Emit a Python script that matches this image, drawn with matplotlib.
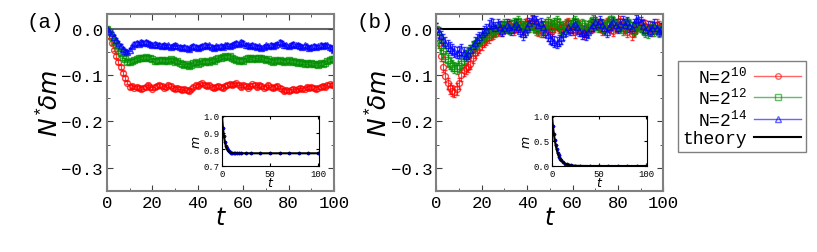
import matplotlib
matplotlib.use("Agg")
import matplotlib.pyplot as plt
from matplotlib.lines import Line2D
from matplotlib.ticker import MultipleLocator

plt.rcParams['font.family'] = ['Liberation Mono', 'DejaVu Sans']
plt.rcParams['mathtext.fontset'] = 'custom'
plt.rcParams['mathtext.rm'] = 'Liberation Mono'
plt.rcParams['mathtext.it'] = 'DejaVu Sans:italic'

# time grid of the main panels
t = list(range(0, 101))

# panel (a): N*dm for N = 2^10, 2^12, 2^14
red_a = [0, -0.015, -0.03, -0.045, -0.058, -0.071, -0.083, -0.095, -0.106, -0.116, -0.125,
         -0.124, -0.127, -0.125, -0.128, -0.130, -0.127, -0.125, -0.122, -0.126, -0.129,
         -0.126, -0.123, -0.121, -0.124, -0.127, -0.125, -0.122, -0.124, -0.128, -0.130,
         -0.127, -0.130, -0.133, -0.129, -0.132, -0.135, -0.131, -0.126, -0.122, -0.124,
         -0.120, -0.118, -0.121, -0.124, -0.122, -0.125, -0.128, -0.126, -0.123, -0.125,
         -0.128, -0.124, -0.121, -0.119, -0.122, -0.120, -0.118, -0.122, -0.125, -0.121,
         -0.124, -0.127, -0.123, -0.120, -0.122, -0.125, -0.121, -0.124, -0.127, -0.125,
         -0.122, -0.125, -0.128, -0.126, -0.123, -0.127, -0.131, -0.134, -0.132, -0.135,
         -0.133, -0.130, -0.133, -0.131, -0.128, -0.131, -0.129, -0.126, -0.128, -0.125,
         -0.128, -0.130, -0.127, -0.126, -0.123, -0.125, -0.122, -0.120, -0.122, -0.121]
green_a = [0, -0.008, -0.017, -0.027, -0.036, -0.045, -0.053, -0.060, -0.066, -0.071, -0.072,
           -0.069, -0.067, -0.066, -0.064, -0.062, -0.063, -0.061, -0.063, -0.062, -0.066,
           -0.069, -0.070, -0.067, -0.068, -0.070, -0.067, -0.069, -0.066, -0.068, -0.072,
           -0.070, -0.073, -0.076, -0.079, -0.077, -0.080, -0.078, -0.074, -0.072, -0.075,
           -0.073, -0.070, -0.072, -0.069, -0.071, -0.068, -0.070, -0.066, -0.064, -0.062,
           -0.060, -0.058, -0.061, -0.059, -0.063, -0.066, -0.068, -0.070, -0.067, -0.069,
           -0.066, -0.064, -0.062, -0.065, -0.063, -0.066, -0.064, -0.062, -0.065, -0.068,
           -0.066, -0.069, -0.071, -0.068, -0.070, -0.067, -0.069, -0.072, -0.070, -0.068,
           -0.071, -0.069, -0.072, -0.074, -0.071, -0.073, -0.076, -0.073, -0.075, -0.074,
           -0.077, -0.075, -0.078, -0.074, -0.076, -0.073, -0.070, -0.068, -0.066, -0.065]
blue_a = [0, -0.004, -0.010, -0.017, -0.024, -0.031, -0.037, -0.043, -0.048, -0.050, -0.045,
          -0.038, -0.033, -0.030, -0.032, -0.029, -0.031, -0.028, -0.030, -0.033, -0.035,
          -0.032, -0.036, -0.034, -0.037, -0.035, -0.038, -0.036, -0.039, -0.037, -0.034,
          -0.038, -0.040, -0.042, -0.039, -0.041, -0.044, -0.040, -0.037, -0.040, -0.042,
          -0.039, -0.037, -0.035, -0.038, -0.036, -0.039, -0.041, -0.038, -0.040, -0.037,
          -0.039, -0.036, -0.034, -0.037, -0.035, -0.032, -0.030, -0.033, -0.029, -0.031,
          -0.034, -0.036, -0.038, -0.035, -0.037, -0.040, -0.038, -0.041, -0.039, -0.036,
          -0.038, -0.035, -0.037, -0.034, -0.032, -0.029, -0.031, -0.034, -0.036, -0.038,
          -0.035, -0.033, -0.036, -0.034, -0.037, -0.039, -0.036, -0.038, -0.041, -0.039,
          -0.037, -0.040, -0.038, -0.035, -0.037, -0.034, -0.036, -0.039, -0.042, -0.045]

# panel (b)
red_b = [0, -0.030, -0.058, -0.082, -0.102, -0.118, -0.128, -0.134, -0.136, -0.130, -0.118,
         -0.100, -0.090, -0.085, -0.082, -0.075, -0.062, -0.052, -0.045, -0.040, -0.033,
         -0.028, -0.022, -0.018, -0.012, -0.010, -0.006, -0.004, 0.002, -0.003, 0.005,
         0.002, 0.008, 0.004, -0.002, 0.006, 0.010, 0.004, 0.000, 0.008, 0.012,
         0.006, 0.015, 0.010, 0.004, -0.004, 0.002, -0.006, 0.004, 0.008, 0.000,
         -0.004, 0.006, 0.010, 0.002, -0.002, 0.004, 0.008, 0.012, 0.006, -0.002,
         -0.008, 0.002, 0.006, -0.004, -0.010, -0.006, 0.004, 0.010, 0.006, 0.014,
         0.010, 0.004, -0.002, 0.006, 0.012, 0.008, 0.002, -0.004, 0.004, 0.010,
         0.016, 0.008, 0.002, -0.006, 0.004, -0.012, -0.006, 0.002, 0.008, 0.004,
         0.010, 0.006, -0.002, 0.004, -0.004, 0.002, 0.008, 0.004, -0.002, 0.002]
green_b = [0, -0.018, -0.034, -0.048, -0.059, -0.068, -0.075, -0.080, -0.084, -0.085, -0.081,
           -0.072, -0.064, -0.058, -0.052, -0.046, -0.041, -0.036, -0.031, -0.026, -0.022,
           -0.018, -0.014, -0.012, -0.008, -0.006, -0.003, 0.002, -0.001, 0.004, 0.008,
           0.004, 0.000, 0.006, 0.012, 0.008, 0.016, 0.010, 0.004, 0.008, 0.002,
           0.006, 0.010, 0.004, -0.002, 0.004, -0.006, 0.002, 0.008, 0.014, 0.010,
           0.004, 0.012, 0.016, 0.008, 0.002, -0.004, 0.006, 0.010, 0.004, 0.012,
           0.016, 0.008, 0.002, 0.010, 0.006, -0.004, 0.004, 0.012, 0.018, 0.010,
           0.004, 0.010, 0.006, 0.000, 0.008, 0.014, 0.020, 0.012, 0.006, 0.010,
           0.004, -0.002, 0.006, 0.012, 0.008, 0.002, -0.004, 0.004, 0.010, 0.006,
           0.000, -0.006, -0.008, -0.002, 0.004, -0.004, 0.002, -0.006, 0.000, -0.004]
blue_b = [0, -0.008, -0.016, -0.024, -0.030, -0.036, -0.041, -0.045, -0.049, -0.052, -0.050,
          -0.044, -0.052, -0.058, -0.054, -0.046, -0.038, -0.030, -0.024, -0.018, -0.012,
          -0.006, -0.002, 0.006, 0.012, 0.008, 0.002, 0.010, 0.004, -0.004, 0.002,
          0.008, 0.004, -0.002, 0.006, 0.010, 0.004, -0.004, -0.012, -0.006, 0.004,
          0.012, 0.018, 0.024, 0.016, 0.008, 0.012, 0.004, -0.006, -0.014, -0.020,
          -0.024, -0.028, -0.030, -0.026, -0.020, -0.012, -0.004, 0.004, -0.002, 0.006,
          0.010, 0.004, -0.004, -0.010, -0.006, -0.012, -0.008, 0.002, 0.008, 0.014,
          0.010, 0.016, 0.008, 0.002, -0.006, 0.004, 0.010, 0.014, 0.008, 0.002,
          0.010, 0.016, 0.008, 0.014, 0.006, 0.002, 0.010, 0.018, 0.022, 0.014,
          0.006, -0.002, 0.004, -0.004, 0.002, 0.008, 0.002, -0.004, 0.000, -0.002]

err_a = 0.004
err_b = 0.012

# insets: m(t)
t_in = [0, 1, 2, 3, 4, 5, 6, 7, 8, 9, 10, 12, 14, 16, 18, 20, 25, 30, 40, 50, 60, 70, 80, 90, 100]
m_a = [1.0, 0.93, 0.88, 0.845, 0.82, 0.805, 0.795, 0.788, 0.783, 0.780, 0.778, 0.777, 0.776,
       0.776, 0.776, 0.776, 0.776, 0.776, 0.776, 0.776, 0.776, 0.776, 0.776, 0.776, 0.776]
m_b = [1.0, 0.80, 0.64, 0.51, 0.41, 0.33, 0.26, 0.21, 0.17, 0.135, 0.11, 0.07, 0.045,
       0.03, 0.02, 0.013, 0.005, 0.002, 0.0, 0.0, 0.0, 0.0, 0.0, 0.0, 0.0]

labels = ['N=2$^{10}$', 'N=2$^{12}$', 'N=2$^{14}$']
colors = ['#ff0000', '#009000', '#0000ff']
markers = ['o', 's', '^']
gray = '#808080'

fig = plt.figure(figsize=(8.17, 2.53), dpi=100)
ax_a = fig.add_axes([0.131, 0.241, 0.278, 0.70])
ax_b = fig.add_axes([0.534, 0.241, 0.278, 0.70])


def style_main(ax):
    ax.set_xlim(0, 100)
    ax.set_ylim(-0.35, 0.032)
    ax.xaxis.set_major_locator(MultipleLocator(20))
    ax.xaxis.set_minor_locator(MultipleLocator(10))
    ax.yaxis.set_major_locator(MultipleLocator(0.1))
    ax.yaxis.set_minor_locator(MultipleLocator(0.05))
    ax.tick_params(which='both', direction='in', top=True, right=True, color='#404040')
    ax.tick_params(which='major', length=4, labelsize=12.5, pad=3)
    ax.tick_params(which='minor', length=2.5)
    for s in ax.spines.values():
        s.set_color(gray)
        s.set_linewidth(1.5)
    ax.set_xlabel('$t$', fontsize=17, labelpad=-3)
    ax.set_ylabel(r'$N^{*}\!\delta m$', fontsize=18, labelpad=-1)


for ax, series, err, zc in [(ax_a, [red_a, green_a, blue_a], err_a, '#666666'),
                             (ax_b, [red_b, green_b, blue_b], err_b, 'black')]:
    ax.axhline(0, color=zc, lw=1.5, zorder=1)
    for y, c, mk in zip(series, colors, markers):
        ax.errorbar(t, y, yerr=err, fmt=mk, ms=4.2, mfc='none', mec=c, mew=1.0,
                    ecolor=c, elinewidth=0.8, capsize=1.5, alpha=0.75, zorder=2)
    style_main(ax)

fig.text(0.033, 0.913, '(a)', fontsize=15, va='center')
fig.text(0.436, 0.913, '(b)', fontsize=15, va='center')

# insets
in_a = fig.add_axes([0.2717, 0.340, 0.1187, 0.198])
in_b = fig.add_axes([0.6756, 0.340, 0.1163, 0.198])
for ax, m, ylim, yt in [(in_a, m_a, (0.7, 1.0), [0.7, 0.8, 0.9, 1.0]),
                        (in_b, m_b, (0.0, 1.0), [0.0, 0.5, 1.0])]:
    for c in colors:
        ax.plot(t_in, m, 'o', ms=1.5, color=c)
    ax.plot(t_in, m, color='black', lw=1.5)
    ax.set_xlim(0, 101)
    ax.set_ylim(*ylim)
    ax.set_yticks(yt)
    ax.set_xticks([0, 50, 100])
    ax.tick_params(direction='in', top=True, right=True, labelsize=6.5, length=2, pad=2)
    ax.set_xlabel('$t$', fontsize=9, labelpad=-1)
    ax.set_ylabel('$m$', fontsize=9, labelpad=0)

handles = [Line2D([], [], color=c, marker=mk, ms=4, mfc='none', lw=1, alpha=0.6)
           for c, mk in zip(colors, markers)]
handles.append(Line2D([], [], color='black', lw=1.5))
leg = fig.legend(handles, labels + ['theory'], loc='upper left',
                 bbox_to_anchor=(0.830, 0.755), fontsize=13, markerfirst=False,
                 fancybox=False, framealpha=1, edgecolor=gray, borderpad=0.25,
                 handlelength=2.6, labelspacing=0.05, handletextpad=0.4,
                 borderaxespad=0)
for txt in leg.get_texts():
    txt.set_ha('right')

fig.savefig('out.png', dpi=100)
